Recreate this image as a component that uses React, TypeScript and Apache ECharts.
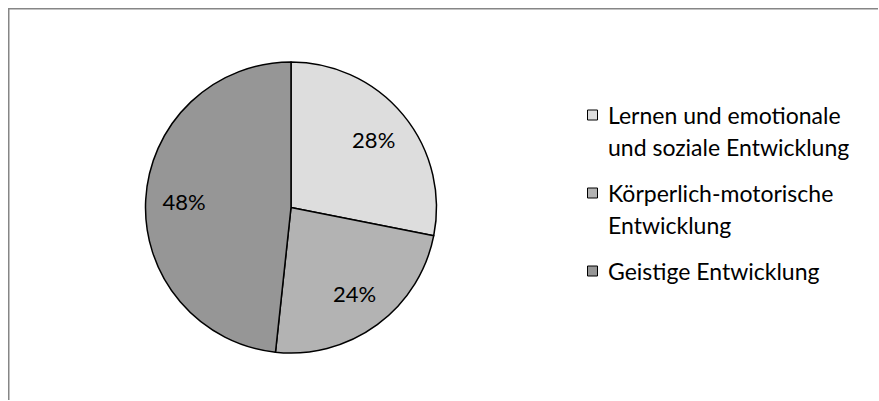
import React, { useEffect, useRef } from "react";
import * as echarts from "echarts";

const categories = [
  "Lernen und emotionale\nund soziale Entwicklung",
  "Körperlich-motorische\nEntwicklung",
  "Geistige Entwicklung",
];
const values = [28.1, 23.6, 48.3];
const colors = ["#dddddd", "#b3b3b3", "#969696"];

const FONT = "Lato, 'Open Sans', sans-serif";

export default function App() {
  const ref = useRef<HTMLDivElement>(null);
  useEffect(() => {
    if (!ref.current) return;
    const chart = echarts.init(ref.current, undefined, { renderer: "svg" });
    const cx = 283;
    const cy = 199.5;
    const r = 145.5;
    const data = categories.map((name, i) => ({
      name,
      value: values[i],
      itemStyle: { color: colors[i] },
    }));

    // legend built from categories
    const lineH = 32;
    const gap = 14;
    const legendX = 579;
    const textX = 600;
    let top = 91;
    const legendEls: any[] = [];
    categories.forEach((name, i) => {
      const lines = name.split("\n");
      legendEls.push({
        type: "rect",
        shape: { x: legendX + 0.5, y: top + lineH / 2 - 5, width: 10, height: 10 },
        style: { fill: colors[i], stroke: "#000", lineWidth: 1 },
      });
      legendEls.push({
        type: "text",
        x: textX,
        y: top,
        style: {
          text: name,
          font: `23px ${FONT}`,
          fill: "#000",
          lineHeight: lineH,
          verticalAlign: "top",
          align: "left",
        },
      });
      top += lines.length * lineH + gap;
    });

    chart.setOption({
      animation: false,
      backgroundColor: "#fff",
      graphic: [
        {
          type: "rect",
          shape: { x: 0.75, y: 0.75, width: 880, height: 400 },
          style: { fill: "none", stroke: "#868686", lineWidth: 1.5 },
          silent: true,
          z: 100,
        },
        ...legendEls,
      ],
      series: [
        {
          type: "pie",
          center: [cx, cy],
          radius: [0, r],
          startAngle: 90,
          clockwise: true,
          data,
          label: { show: false },
          labelLine: { show: false },
          itemStyle: { borderColor: "#000", borderWidth: 1.5 },
          emphasis: { disabled: true },
          silent: true,
        },
        {
          type: "pie",
          center: [cx, cy],
          radius: [0, r * 1.43],
          startAngle: 90,
          clockwise: true,
          data: categories.map((name, i) => ({ name, value: values[i] })),
          percentPrecision: 0,
          itemStyle: { color: "rgba(0,0,0,0)", borderWidth: 0 },
          label: {
            show: true,
            position: "inside",
            formatter: "{d}%",
            color: "#000",
            fontFamily: FONT,
            fontSize: 22,
          },
          labelLine: { show: false },
          emphasis: { disabled: true },
          silent: true,
          z: 3,
        },
      ],
    });
    return () => chart.dispose();
  }, []);
  return (
    <div
      ref={ref}
      style={{
        position: "absolute",
        left: 8,
        top: 8,
        width: 870,
        height: 392,
        overflow: "hidden",
      }}
    />
  );
}
